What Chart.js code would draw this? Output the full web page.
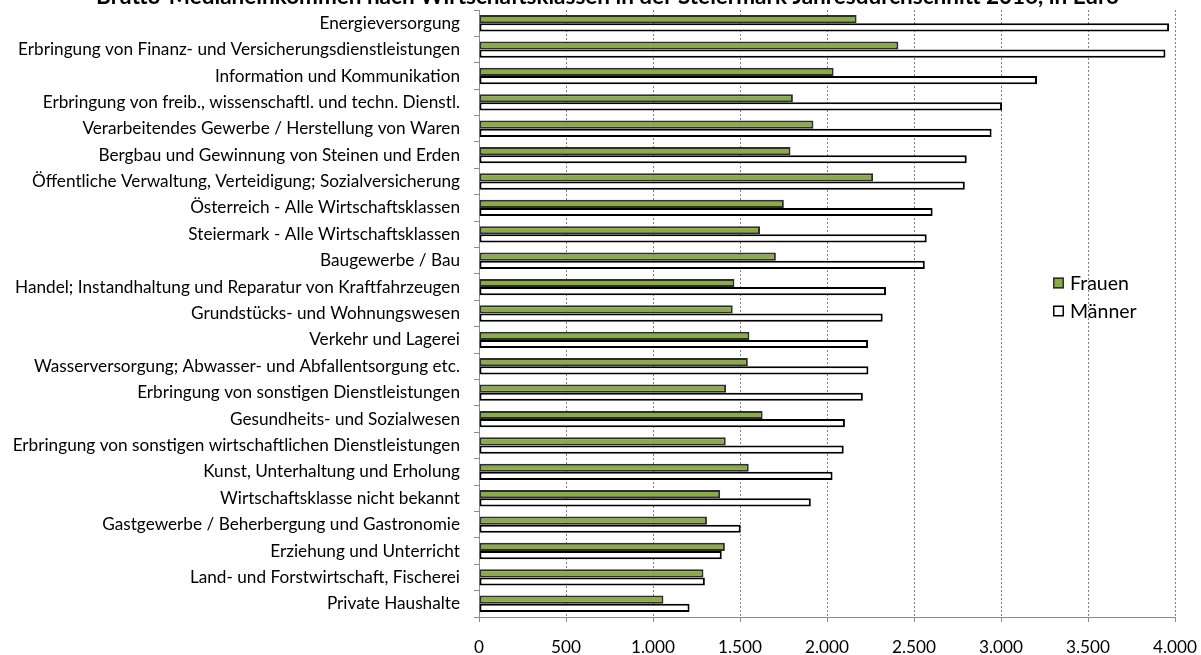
<!DOCTYPE html>
<html lang="de">
<head>
<meta charset="utf-8">
<script src="https://cdn.jsdelivr.net/npm/chart.js@4/dist/chart.umd.min.js"></script>
<style>
  html, body { margin: 0; padding: 0; background: #fff; }
  #wrap { position: relative; width: 1201px; height: 655px; overflow: hidden; }
  #c { position: absolute; left: 0; top: -17px; }
</style>
</head>
<body>
<div id="wrap"><canvas id="c" width="1201" height="672"></canvas></div>
<script>
// Brutto-Medianeinkommen nach Wirtschaftsklassen, Steiermark 2016 (Euro)
const categories = [
  "Energieversorgung",
  "Erbringung von Finanz- und Versicherungsdienstleistungen",
  "Information und Kommunikation",
  "Erbringung von freib., wissenschaftl. und techn. Dienstl.",
  "Verarbeitendes Gewerbe / Herstellung von Waren",
  "Bergbau und Gewinnung von Steinen und Erden",
  "Öffentliche Verwaltung, Verteidigung; Sozialversicherung",
  "Österreich - Alle Wirtschaftsklassen",
  "Steiermark - Alle Wirtschaftsklassen",
  "Baugewerbe / Bau",
  "Handel; Instandhaltung und Reparatur von Kraftfahrzeugen",
  "Grundstücks- und Wohnungswesen",
  "Verkehr und Lagerei",
  "Wasserversorgung; Abwasser- und Abfallentsorgung etc.",
  "Erbringung von sonstigen Dienstleistungen",
  "Gesundheits- und Sozialwesen",
  "Erbringung von sonstigen wirtschaftlichen Dienstleistungen",
  "Kunst, Unterhaltung und Erholung",
  "Wirtschaftsklasse nicht bekannt",
  "Gastgewerbe / Beherbergung und Gastronomie",
  "Erziehung und Unterricht",
  "Land- und Forstwirtschaft, Fischerei",
  "Private Haushalte"
];
const frauen = [2170, 2410, 2038, 1804, 1922, 1790, 2265, 1752, 1615, 1706, 1468, 1458,
                1554, 1545, 1420, 1630, 1418, 1550, 1386, 1310, 1413, 1290, 1060];
const maenner = [3966, 3945, 3207, 3006, 2946, 2803, 2792, 2607, 2573, 2562, 2339, 2320,
                 2236, 2238, 2206, 2103, 2096, 2032, 1907, 1504, 1395, 1298, 1210];
const seriesNames = ["Frauen", "Männer"];
const xTicks = [0, 500, 1000, 1500, 2000, 2500, 3000, 3500, 4000];
const titleText = "Brutto-Medianeinkommen nach Wirtschaftsklassen in der Steiermark Jahresdurchschnitt 2016, in Euro";

const FONT = "Lato, 'DejaVu Sans', sans-serif";
const LABEL_SIZE = 17.2;

// Legend drawn inside the plot area, to the right of the bars
const insideLegend = {
  id: 'insideLegend',
  afterDraw(chart) {
    const ctx = chart.ctx;
    const x0 = 1053, y0 = 300, step = 28, box = 11;
    ctx.save();
    ctx.font = `19.5px ${FONT}`;
    ctx.textBaseline = 'middle';
    ctx.textAlign = 'left';
    chart.data.datasets.forEach((ds, i) => {
      const cy = y0 + i * step;
      ctx.fillStyle = ds.backgroundColor;
      ctx.fillRect(x0, cy - box / 2, box, box);
      ctx.lineWidth = 1.5;
      ctx.strokeStyle = ds.borderColor;
      ctx.strokeRect(x0 + 0.75, cy - box / 2 + 0.75, box - 1.5, box - 1.5);
      ctx.fillStyle = '#000';
      ctx.fillText(ds.label, x0 + box + 6, cy + 1);
    });
    ctx.restore();
  }
};

const fmt = v => v.toLocaleString('de-DE');

new Chart(document.getElementById('c'), {
  type: 'bar',
  data: {
    labels: categories,
    datasets: [
      { label: seriesNames[0], data: frauen, backgroundColor: '#8aac46', borderColor: '#2e2e2e',
        borderWidth: 2, borderSkipped: false },
      { label: seriesNames[1], data: maenner, backgroundColor: '#ffffff', borderColor: '#000000',
        borderWidth: 2, borderSkipped: false }
    ]
  },
  options: {
    indexAxis: 'y',
    responsive: false,
    animation: false,
    datasets: { bar: { categoryPercentage: 0.62, barPercentage: 1.0 } },
    layout: { padding: { left: 14, right: 0, top: 0, bottom: 0 } },
    plugins: {
      legend: { display: false },
      tooltip: { enabled: false },
      title: {
        display: true,
        text: titleText,
        color: '#000',
        font: { family: FONT, size: 22.5, weight: 'bold', lineHeight: 1.2 },
        padding: { top: 0, bottom: 0 }
      }
    },
    scales: {
      x: {
        type: 'linear',
        min: 0, max: 4000,
        afterBuildTicks(scale) { scale.ticks = xTicks.map(v => ({ value: v })); },
        afterFit(scale) { scale.height = 38; scale.paddingRight = 26; scale.paddingLeft = 0; },
        ticks: {
          color: '#000',
          font: { family: FONT, size: LABEL_SIZE },
          padding: 15,
          maxRotation: 0,
          callback: v => fmt(v)
        },
        grid: {
          color: c => (c.tick && c.tick.value === 0 ? 'rgba(0,0,0,0)' : '#808080'),
          tickColor: '#8c8c8c',
          tickLength: 5,
          tickBorderDash: [],
          lineWidth: 1
        },
        border: { display: true, color: '#8c8c8c', width: 1, dash: [2, 2] }
      },
      y: {
        type: 'category',
        afterFit(scale) { scale.width = 465; },
        ticks: {
          color: '#000',
          font: { family: FONT, size: LABEL_SIZE },
          padding: 14,
          autoSkip: false
        },
        grid: {
          offset: true,
          drawOnChartArea: false,
          drawTicks: true,
          tickLength: 5,
          color: '#8c8c8c',
          tickColor: '#8c8c8c'
        },
        border: { display: true, color: '#8c8c8c', width: 1 }
      }
    }
  },
  plugins: [insideLegend]
});
</script>
</body>
</html>
